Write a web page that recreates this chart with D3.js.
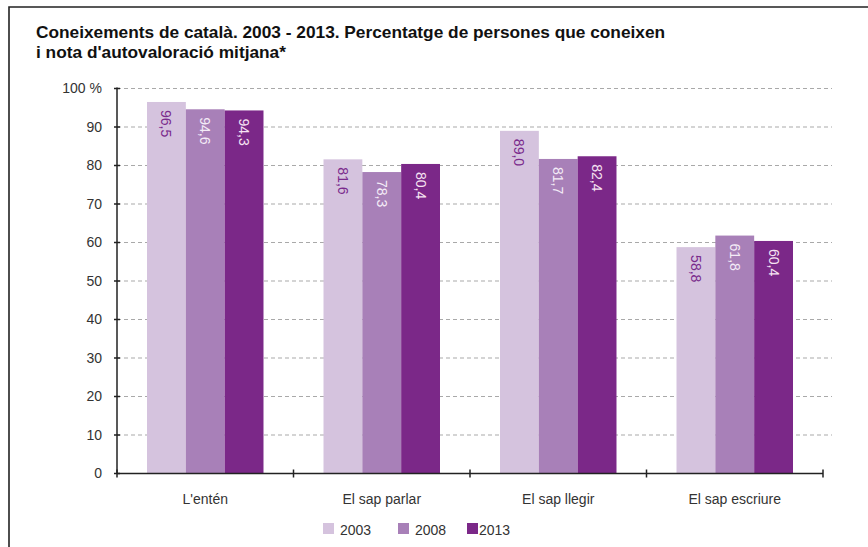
<!DOCTYPE html>
<html lang="ca">
<head>
  <meta charset="UTF-8">
  <title>Coneixements de català</title>
  <style>
    * {
      padding: 0;
      margin: 0;
    }
    body {
      background: #fff;
    }
  </style>
</head>
<body>
  <script src="https://d3js.org/d3.v7.min.js"></script>
  <script>
    const width = 868;
    const height = 547;

    const categories = ["L'entén", 'El sap parlar', 'El sap llegir', 'El sap escriure'];
    const years = ['2003', '2008', '2013'];
    const values2003 = [96.5, 81.6, 89.0, 58.8];
    const values2008 = [94.6, 78.3, 81.7, 61.8];
    const values2013 = [94.3, 80.4, 82.4, 60.4];
    const yTicks = [0, 10, 20, 30, 40, 50, 60, 70, 80, 90, 100];
    const colors = ['#d5c3de', '#a880b8', '#7b2888'];
    const labelColors = ['#7a2a8c', '#f4ecf7', '#f6e3f2'];

    const series = [values2003, values2008, values2013];

    const margin = { left: 117, right: 45, top: 88.5, bottom: 73.5 };

    const svg = d3.select('body')
      .append('svg')
      .attr('width', width)
      .attr('height', height)
      .style('font-family', '"Liberation Sans", Arial, sans-serif');

    // frame
    svg.append('path')
      .attr('d', `M${9},${height} V7 H${width}`)
      .attr('fill', 'none')
      .attr('stroke', '#222')
      .attr('stroke-width', 1.6);

    // title
    const title = svg.append('text')
      .attr('x', 36)
      .attr('y', 38)
      .attr('font-family', '"Liberation Sans Narrow", "Liberation Sans", Arial, sans-serif')
      .attr('font-weight', 'bold')
      .attr('font-size', 17.3)
      .attr('fill', '#111');
    title.append('tspan').attr('x', 36).text('Coneixements de català. 2003 - 2013. Percentatge de persones que coneixen');
    title.append('tspan').attr('x', 36).attr('dy', 20).text("i nota d'autovaloració mitjana*");

    const x0 = d3.scaleBand()
      .domain(categories)
      .range([margin.left, width - margin.right])
      .paddingInner(0.34)
      .paddingOuter(0.17);

    const x1 = d3.scaleBand()
      .domain(years)
      .range([0, x0.bandwidth()]);

    const y = d3.scaleLinear()
      .domain([0, 100])
      .range([height - margin.bottom, margin.top]);

    const x0Step = x0.step();
    const axisRight = margin.left + x0Step * categories.length;

    // grid
    svg.append('g')
      .selectAll('line')
      .data(yTicks.filter(d => d > 0))
      .join('line')
      .attr('x1', margin.left)
      .attr('x2', axisRight + 9)
      .attr('y1', d => y(d))
      .attr('y2', d => y(d))
      .attr('stroke', '#a9a9a9')
      .attr('stroke-width', 1)
      .attr('stroke-dasharray', '4,3');

    // bars
    const groups = svg.append('g')
      .selectAll('g')
      .data(categories)
      .join('g')
      .attr('transform', d => `translate(${x0(d)},0)`);

    groups.selectAll('rect')
      .data((d, i) => years.map((yr, k) => ({ yr, k, v: series[k][i] })))
      .join('rect')
      .attr('x', d => x1(d.yr))
      .attr('width', x1.bandwidth())
      .attr('y', d => y(d.v))
      .attr('height', d => y(0) - y(d.v))
      .attr('fill', d => colors[d.k]);

    groups.selectAll('text')
      .data((d, i) => years.map((yr, k) => ({ yr, k, v: series[k][i] })))
      .join('text')
      .attr('transform', d => `translate(${x1(d.yr) + x1.bandwidth() / 2},${y(d.v) + 8}) rotate(90)`)
      .attr('dominant-baseline', 'central')
      .attr('font-size', 14)
      .attr('fill', d => labelColors[d.k])
      .text(d => d.v.toFixed(1).replace('.', ','));

    // y axis
    const yAxis = svg.append('g');
    yAxis.append('line')
      .attr('x1', margin.left).attr('x2', margin.left)
      .attr('y1', y(100) - 1).attr('y2', y(0))
      .attr('stroke', '#222').attr('stroke-width', 1.5);
    yAxis.selectAll('.tick')
      .data(yTicks)
      .join('line')
      .attr('x1', margin.left - 3).attr('x2', margin.left + 3)
      .attr('y1', d => y(d)).attr('y2', d => y(d))
      .attr('stroke', '#222').attr('stroke-width', 1.5);
    yAxis.selectAll('text')
      .data(yTicks)
      .join('text')
      .attr('x', 102)
      .attr('y', d => y(d))
      .attr('dy', '0.35em')
      .attr('text-anchor', 'end')
      .attr('font-size', 14)
      .attr('fill', '#333')
      .text(d => d === 100 ? '100 %' : d);

    // x axis
    const xAxis = svg.append('g');
    xAxis.append('line')
      .attr('x1', margin.left).attr('x2', axisRight)
      .attr('y1', y(0)).attr('y2', y(0))
      .attr('stroke', '#222').attr('stroke-width', 1.5);
    xAxis.selectAll('.tick')
      .data(d3.range(categories.length + 1))
      .join('line')
      .attr('x1', i => margin.left + i * x0Step)
      .attr('x2', i => margin.left + i * x0Step)
      .attr('y1', y(0) - 4).attr('y2', y(0) + 4)
      .attr('stroke', '#222').attr('stroke-width', 1.5);
    xAxis.selectAll('text')
      .data(categories)
      .join('text')
      .attr('x', d => x0(d) + x0.bandwidth() / 2)
      .attr('y', 504)
      .attr('text-anchor', 'middle')
      .attr('font-size', 14)
      .attr('fill', '#333')
      .text(d => d);

    // legend
    const legendX = [323, 398, 467];
    const legend = svg.append('g')
      .selectAll('g')
      .data(years)
      .join('g')
      .attr('transform', (d, i) => `translate(${legendX[i]},523)`);
    legend.append('rect')
      .attr('width', 11).attr('height', 11)
      .attr('fill', (d, i) => colors[i]);
    legend.append('text')
      .attr('x', (d, i) => i === 2 ? 12 : 17)
      .attr('y', 11.5)
      .attr('font-size', 14)
      .attr('fill', '#333')
      .text(d => d);
  </script>
</body>
</html>
